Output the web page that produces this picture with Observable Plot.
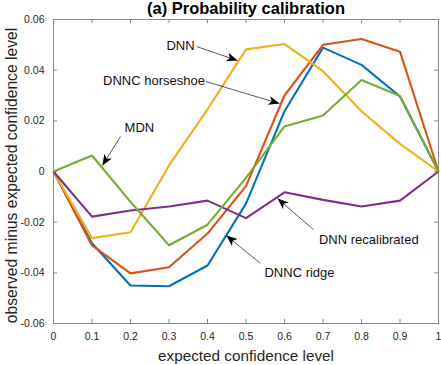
<!DOCTYPE html>
<html>
<head>
<meta charset="utf-8">
<script src="https://cdn.jsdelivr.net/npm/d3@7"></script>
<script src="https://cdn.jsdelivr.net/npm/@observablehq/plot@0.6"></script>
<style>
  html, body { margin: 0; padding: 0; background: #fff; }
  #chart svg { display: block; }
</style>
</head>
<body>
<div id="chart"></div>
<script>
// ---- data ----
const conf = [0, 0.1, 0.2, 0.3, 0.4, 0.5, 0.6, 0.7, 0.8, 0.9, 1];
const dnncRidge     = [0, -0.0283, -0.0450, -0.0453, -0.0371, -0.0127, 0.0238, 0.0489, 0.0421, 0.0296, 0];
const dnncHorseshoe = [0, -0.0292, -0.0402, -0.0378, -0.0245, -0.0058, 0.0300, 0.0500, 0.0523, 0.0473, 0];
const dnn           = [0, -0.0263, -0.0240, 0.0024, 0.0245, 0.0482, 0.0503, 0.0396, 0.0238, 0.0109, 0];
const dnnRecal      = [0, -0.0178, -0.0154, -0.0138, -0.0115, -0.0184, -0.0082, -0.0112, -0.0138, -0.0115, 0];
const mdn           = [0, 0.0063, -0.0120, -0.0291, -0.0210, -0.0025, 0.0178, 0.0221, 0.0361, 0.0298, 0];

const seriesNames  = ["DNNC ridge", "DNNC horseshoe", "DNN", "DNN recalibrated", "MDN"];
const seriesValues = [dnncRidge, dnncHorseshoe, dnn, dnnRecal, mdn];
const seriesColors = ["#0072BD", "#D95319", "#EDB120", "#7E2F8E", "#77AC30"];

const xTicks = [0, 0.1, 0.2, 0.3, 0.4, 0.5, 0.6, 0.7, 0.8, 0.9, 1];
const xTickLabels = ["0", "0.1", "0.2", "0.3", "0.4", "0.5", "0.6", "0.7", "0.8", "0.9", "1"];
const yTicks = [-0.06, -0.04, -0.02, 0, 0.02, 0.04, 0.06];
const yTickLabels = ["-0.06", "-0.04", "-0.02", "0", "0.02", "0.04", "0.06"];

const titleText = "(a) Probability calibration";
const xLabel = "expected confidence level";
const yLabel = "observed minus expected confidence level";

// annotation labels (data coordinates): text centre, arrow tail, arrow tip
const annLabels = ["DNN", "DNNC horseshoe", "MDN", "DNN recalibrated", "DNNC ridge"];
const annTextX  = [0.330, 0.261, 0.223, 0.819, 0.639];
const annTextY  = [0.0495, 0.0356, 0.0174, -0.0268, -0.0399];
const annTailX  = [0.372, 0.396, 0.174, 0.675, 0.538];
const annTailY  = [0.0493, 0.0355, 0.0138, -0.0229, -0.0363];
const annTipX   = [0.478, 0.587, 0.127, 0.582, 0.449];
const annTipY   = [0.0438, 0.0268, 0.0024, -0.0107, -0.0253];

// ---- build tables ----
const rows = [];
seriesNames.forEach((name, i) => {
  conf.forEach((c, j) => rows.push({series: name, x: c, y: seriesValues[i][j]}));
});
const anns = annLabels.map((t, i) => ({
  text: t, tx: annTextX[i], ty: annTextY[i],
  x1: annTailX[i], y1: annTailY[i], x2: annTipX[i], y2: annTipY[i]
}));

const W = 441, H = 365;
const mL = 53, mR = 3, mT = 19, mB = 42;
const fw = W - mL - mR, fh = H - mT - mB;
const axisColor = "#8a8a8a";
const textColor = "#262626";
const font = "'Liberation Sans', Arial, Helvetica, sans-serif";

const chart = Plot.plot({
  width: W, height: H,
  marginLeft: mL, marginRight: mR, marginTop: mT, marginBottom: mB,
  style: {fontFamily: font, background: "#fff", overflow: "visible"},
  x: {domain: [0, 1]},
  y: {domain: [-0.06, 0.06]},
  color: {domain: seriesNames, range: seriesColors},
  marks: [
    // inward ticks on all four sides
    Plot.ruleX(xTicks, {x: d => d, insetTop: fh - 4, stroke: axisColor, strokeWidth: 1}),
    Plot.ruleX(xTicks, {x: d => d, insetBottom: fh - 4, stroke: axisColor, strokeWidth: 1}),
    Plot.ruleY(yTicks, {y: d => d, insetRight: fw - 4, stroke: axisColor, strokeWidth: 1}),
    Plot.ruleY(yTicks, {y: d => d, insetLeft: fw - 4, stroke: axisColor, strokeWidth: 1}),
    Plot.frame({stroke: axisColor, strokeWidth: 1}),
    Plot.axisX({ticks: xTicks, tickSize: 0, tickPadding: 9, fontSize: 10.5, color: textColor,
      tickFormat: d => xTickLabels[xTicks.indexOf(d)], label: null}),
    Plot.axisY({ticks: yTicks, tickSize: 0, tickPadding: 9, fontSize: 10.5, color: textColor,
      tickFormat: d => yTickLabels[yTicks.findIndex(v => Math.abs(v - d) < 1e-9)], label: null}),
    Plot.line(rows, {x: "x", y: "y", z: "series", stroke: "series", strokeWidth: 2.1,
      strokeLinejoin: "miter", strokeLinecap: "butt"}),
    Plot.link(anns, {x1: "x1", y1: "y1", x2: "x2", y2: "y2", stroke: "#111", strokeWidth: 0.7,
      markerEnd: "arrow"}),
    Plot.text(anns, {x: "tx", y: "ty", text: "text", fontSize: 13, fill: "#111", textAnchor: "middle"}),
    Plot.text([titleText], {frameAnchor: "top", textAnchor: "middle", lineAnchor: "middle", dy: -11,
      fontSize: 16.5, fontWeight: "bold", fill: "#000"}),
    Plot.text([xLabel], {frameAnchor: "bottom", textAnchor: "middle", lineAnchor: "middle", dy: 33,
      fontSize: 15.3, fill: textColor}),
    Plot.text([yLabel], {frameAnchor: "left", textAnchor: "middle", lineAnchor: "middle", dx: -42, dy: 4,
      rotate: -90, fontSize: 15.7, fill: textColor})
  ]
});

// MATLAB-style filled arrow heads for the annotation links
d3.select(chart).selectAll("marker").each(function () {
  const m = d3.select(this);
  m.attr("viewBox", "-11 -5 12 10")
   .attr("markerWidth", 12).attr("markerHeight", 10)
   .attr("markerUnits", "userSpaceOnUse")
   .attr("refX", 0).attr("refY", 0)
   .attr("orient", "auto")
   .attr("fill", "#000").attr("stroke", "none");
  m.selectAll("*").remove();
  m.append("path").attr("d", "M0,0L-11,-4.5L-8,0L-11,4.5Z");
});

document.getElementById("chart").appendChild(chart);
</script>
</body>
</html>
